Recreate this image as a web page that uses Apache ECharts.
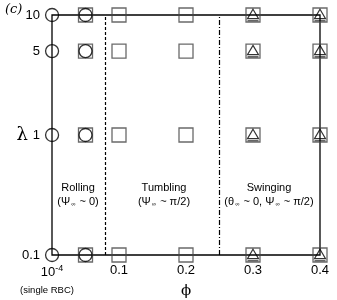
<!DOCTYPE html>
<html><head><meta charset="utf-8">
<script src="https://cdn.jsdelivr.net/npm/echarts@6/dist/echarts.min.js"></script>
<style>html,body{margin:0;padding:0;background:#fff}#c{width:337px;height:300px}</style>
</head><body><div id="c"></div>
<script>
const lambdaValues = [0.1, 1, 5, 10];
const circlePhi = [0.0001, 0.05];
const squarePhi = [0.05, 0.1, 0.2, 0.3, 0.4];
const trianglePhi = [0.3, 0.4];
const xTickLabels = ['10', '0.1', '0.2', '0.3', '0.4'];
const yTickValues = [0.1, 1, 5, 10];
const boundaries = [0.077, 0.254];
const regionNames = ['Rolling', 'Tumbling', 'Swinging'];

function grid2(phis) {
  const out = [];
  phis.forEach(p => lambdaValues.forEach(l => out.push([p, l])));
  return out;
}
const F = 'Liberation Sans, Arial, sans-serif';
const triPath = 'path://M5,0 L10,8.5 L0,8.5 Z M0,10.5 L10,10.5';

const chart = echarts.init(document.getElementById('c'));
chart.setOption({
  animation: false,
  grid: {left: 52, right: 17, top: 15, bottom: 45, show: true, borderColor: '#000', borderWidth: 1.3, containLabel: false, outerBoundsMode: 'none'},
  xAxis: {
    type: 'value', min: 0, max: 0.4, interval: 0.1,
    splitLine: {show: false}, axisTick: {show: false}, axisLine: {show: false},
    name: 'ϕ', nameLocation: 'middle', nameGap: 29, nameMoveOverlap: false,
    nameTextStyle: {fontFamily: 'DejaVu Serif', fontSize: 15, color: '#000'},
    axisLabel: {
      margin: 9, color: '#000', fontFamily: F, fontSize: 13,
      formatter: (v) => {
        const i = Math.round(v / 0.1);
        if (i === 0) return '{a|' + xTickLabels[0] + '}{s|-4}\n{c|(single RBC)}';
        return '{a|' + xTickLabels[i] + '}';
      },
      rich: {
        a: {fontFamily: F, fontSize: 13, color: '#000'},
        s: {fontFamily: F, fontSize: 9, color: '#000', padding: [0, 0, 8, 0]},
        c: {fontFamily: F, fontSize: 9.5, color: '#000', padding: [4, 10, 0, 0]}
      }
    }
  },
  yAxis: {
    type: 'log', min: 0.1, max: 10, logBase: 10,
    splitLine: {show: false}, axisTick: {show: false}, axisLine: {show: false},
    name: 'λ', nameLocation: 'middle', nameGap: 24, nameRotate: 0, nameMoveOverlap: false,
    nameTextStyle: {fontFamily: 'DejaVu Serif', fontSize: 18, color: '#000'},
    axisLabel: {
      customValues: yTickValues, margin: 12, color: '#000', fontFamily: F, fontSize: 13,
      formatter: (v) => String(+v.toPrecision(3))
    }
  },
  series: [
    {
      type: 'scatter', clip: false, symbol: 'rect', symbolSize: 14, data: grid2(squarePhi),
      itemStyle: {color: 'transparent', borderColor: '#444', borderWidth: 1.3},
      markLine: {
        silent: true, symbol: 'none', label: {show: false},
        data: [
          {xAxis: boundaries[0], lineStyle: {type: [3, 2], color: '#000', width: 1.2}},
          {xAxis: boundaries[1], lineStyle: {type: [5, 2, 1, 2], color: '#000', width: 1.2}}
        ]
      }
    },
    {
      type: 'scatter', clip: false, symbol: 'circle', symbolSize: 13, data: grid2(circlePhi),
      itemStyle: {color: 'transparent', borderColor: '#000', borderWidth: 1.3}
    },
    {
      type: 'scatter', clip: false, symbol: triPath, symbolSize: [11, 11.5], data: grid2(trianglePhi),
      itemStyle: {color: 'transparent', borderColor: '#000', borderWidth: 1.2}
    }
  ],
  graphic: [
    {type: 'text', left: 5, top: 3, style: {text: '(c)', font: 'italic 13px "DejaVu Serif", serif', fill: '#000'}},
    {type: 'text', x: 78, y: 188, style: {text: regionNames[0], font: '11px ' + F, fill: '#000', align: 'center', verticalAlign: 'middle'}},
    {type: 'text', x: 78, y: 202, style: {text: '(Ψ{s|∞} ~ 0)', font: '11px ' + F, fill: '#000', align: 'center', verticalAlign: 'middle', rich: {s: {fontSize: 6, fontFamily: F, padding: [5, 1, 0, 1]}}}},
    {type: 'text', x: 164, y: 188, style: {text: regionNames[1], font: '11px ' + F, fill: '#000', align: 'center', verticalAlign: 'middle'}},
    {type: 'text', x: 164, y: 202, style: {text: '(Ψ{s|∞} ~ π/2)', font: '11px ' + F, fill: '#000', align: 'center', verticalAlign: 'middle', rich: {s: {fontSize: 6, fontFamily: F, padding: [5, 1, 0, 1]}}}},
    {type: 'text', x: 269, y: 188, style: {text: regionNames[2], font: '11px ' + F, fill: '#000', align: 'center', verticalAlign: 'middle'}},
    {type: 'text', x: 269, y: 202, style: {text: '(θ{s|∞} ~ 0, Ψ{s|∞} ~ π/2)', font: '11px ' + F, fill: '#000', align: 'center', verticalAlign: 'middle', rich: {s: {fontSize: 6, fontFamily: F, padding: [5, 1, 0, 1]}}}}
  ]
});
</script></body></html>
